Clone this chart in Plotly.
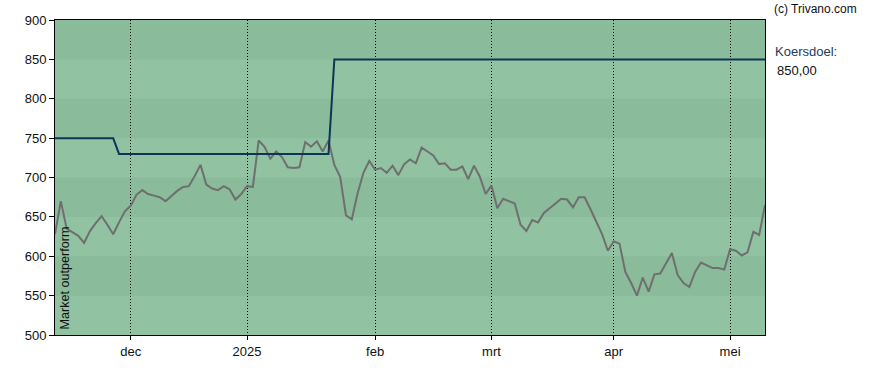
import plotly.graph_objects as go

# trading-day index axis (Nov 13 2024 .. May 12 2025)
price = [628, 670, 635, 631, 626, 617, 632, 642, 651, 640,
         628, 643, 657, 664, 678, 684, 679, 677, 675, 670,
         677, 683, 688, 689, 702, 716, 691, 686, 684, 689,
         685, 672, 679, 689, 688, 747, 739, 724, 733, 726,
         713, 712, 713, 745, 739, 746, 733, 747, 716, 701,
         652, 647, 680, 706, 721, 710, 712, 706, 715, 703,
         717, 723, 718, 738, 733, 728, 717, 718, 710, 710,
         714, 698, 715, 701, 679, 690, 661, 673, 670, 667,
         640, 632, 646, 643, 655, 661, 666, 673, 672, 662,
         675, 675, 660, 645, 628, 607, 619, 616, 580, 566,
         550, 573, 555, 577, 578, 591, 604, 576, 566, 561,
         580, 592, 589, 585, 585, 583, 609, 607, 601, 605,
         631, 627, 665]
target = [750] * 11 + [730] * 37 + [850] * 75
days = list(range(len(price)))

tick_pos = [13, 33, 55, 75, 96, 116]
tick_labels = ["dec", "2025", "feb", "mrt", "apr", "mei"]
y_ticks = [500, 550, 600, 650, 700, 750, 800, 850, 900]

L, R, T, B = 55, 765, 20, 335
W, H = 888, 370
PW, PH = R - L, B - T

def px(x):
    return (x - L) / PW

def py(y):
    return (B - y) / PH

fig = go.Figure()
fig.add_trace(go.Scatter(x=days, y=price, mode="lines",
                         line=dict(color="#6f6f6f", width=2), hoverinfo="skip"))
fig.add_trace(go.Scatter(x=days, y=target, mode="lines",
                         line=dict(color="#0e3456", width=2), hoverinfo="skip"))

shapes = []
for lo in [850, 750, 650, 550]:
    shapes.append(dict(type="rect", xref="paper", yref="y", x0=0, x1=1,
                       y0=lo, y1=lo + 50, fillcolor="#8abb9a",
                       line=dict(width=0), layer="below"))

font = "Liberation Sans, Arial, sans-serif"
fig.update_layout(
    width=W, height=H,
    margin=dict(l=L, r=W - R, t=T, b=H - B),
    paper_bgcolor="white", plot_bgcolor="#91c3a2",
    showlegend=False, shapes=shapes,
    font=dict(family=font, size=13, color="#111"),
    xaxis=dict(range=[0, len(price) - 1], tickvals=tick_pos, ticktext=tick_labels,
               showgrid=True, gridcolor="black", gridwidth=1, griddash="1px,2px",
               showline=True, linecolor="black", linewidth=1, mirror=True,
               ticks="outside", ticklen=4, tickcolor="black", zeroline=False,
               tickfont=dict(size=13, color="#111")),
    yaxis=dict(range=[500, 900], tickvals=y_ticks, showgrid=False,
               showline=True, linecolor="black", linewidth=1, mirror=True,
               ticks="outside", ticklen=5, tickcolor="black", zeroline=False,
               tickfont=dict(size=13, color="#111")),
    annotations=[
        dict(text="(c) Trivano.com", xref="paper", yref="paper", x=px(772), y=py(9),
             xanchor="left", yanchor="middle", showarrow=False,
             font=dict(size=12, color="#111")),
        dict(text="Koersdoel:", xref="paper", yref="paper", x=px(773), y=py(51),
             xanchor="left", yanchor="middle", showarrow=False,
             font=dict(size=13, color="#1d3a5a")),
        dict(text="850,00", xref="paper", yref="paper", x=px(775), y=py(70),
             xanchor="left", yanchor="middle", showarrow=False,
             font=dict(size=13, color="#111")),
        dict(text="Market outperform", xref="paper", yref="paper", x=px(64), y=py(332),
             xanchor="center", yanchor="bottom", textangle=-90, showarrow=False,
             font=dict(size=12.6, color="#111")),
    ],
)

fig.write_html("out.html")
